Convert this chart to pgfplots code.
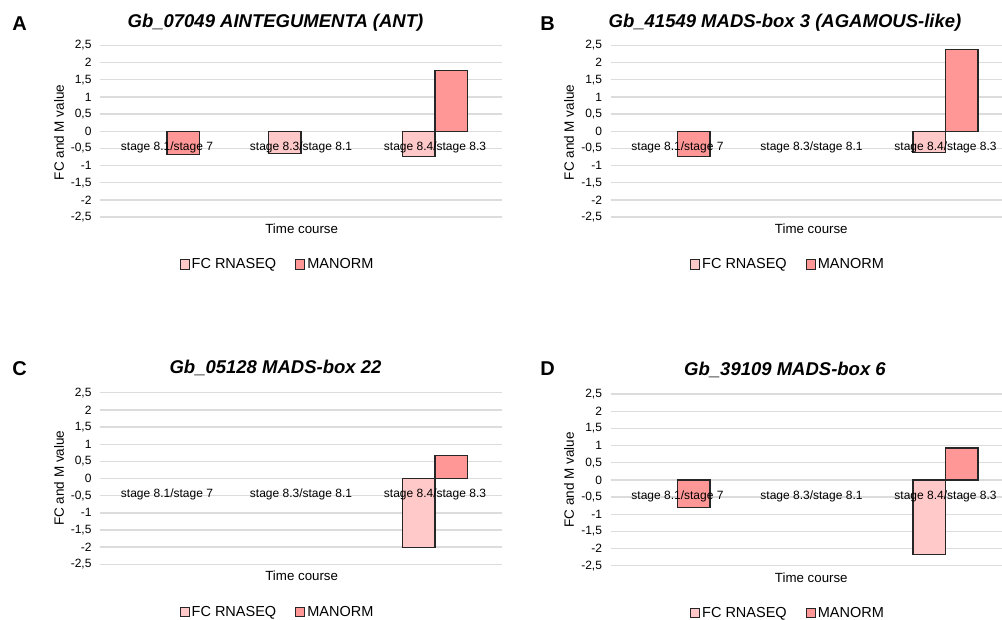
\documentclass[border=0pt]{standalone}
\usepackage{fontspec}
\setmainfont{Liberation Sans}
\usepackage{pgfplots}
\pgfplotsset{compat=1.18}
\definecolor{fcpink}{HTML}{FFC9C9}
\definecolor{manorm}{HTML}{FF9797}
\definecolor{gridc}{HTML}{DCDCDC}
\definecolor{edge}{HTML}{262626}
\pgfplotsset{
 base/.style={
   scale only axis, width=402pt, height=171.5pt,
   anchor=south west,
   xmin=0.5, xmax=3.5, ymin=-2.5, ymax=2.5,
   enlarge x limits=false, enlarge y limits=false,
   axis x line*=middle, axis y line*=left,
   x axis line style={draw=none},
   y axis line style={draw=none},
   major tick length=0pt,
 },
 panel/.style={base,
   ybar=0pt, bar width=32.5pt,
   xtick={1,2,3}, xticklabels={},
   ytick={-2.5,-2,-1.5,-1,-0.5,0,0.5,1,1.5,2,2.5},
   ymajorgrids, grid style={draw=gridc, line width=1.4pt},
   /pgf/number format/assume math mode=true,
   /pgf/number format/use comma,
   /pgf/number format/fixed,
   yticklabel style={font=\fontsize{12}{14}\selectfont, anchor=east, xshift=-5pt},
   legend style={at={(177.5pt,-47.5pt)}, anchor=center, draw=none, fill=none,
     legend columns=2, font=\fontsize{14.5}{16}\selectfont,
     /tikz/every even column/.append style={column sep=17pt}},
 },
 catlabels/.style={base,
   xtick={1,2,3},
   xticklabels={stage 8.1/stage 7, stage 8.3/stage 8.1, stage 8.4/stage 8.3},
   ytick=\empty,
   xticklabel style={font=\fontsize{12}{14}\selectfont, anchor=north, yshift=-7pt},
 },
 rightpanel/.style={width=391.5pt, xmax=3.4216},
 fcbar/.style={fill=fcpink, draw=edge, line width=1.2pt,
   /pgfplots/legend image code/.code={\draw[fill=fcpink,draw=edge,line width=0.9pt] (0pt,-4.6pt) rectangle (9.2pt,4.6pt);}},
 mabar/.style={fill=manorm, draw=edge, line width=1.2pt,
   /pgfplots/legend image code/.code={\draw[fill=manorm,draw=edge,line width=0.9pt] (0pt,-4.6pt) rectangle (9.2pt,4.6pt);}},
}
\begin{document}
\begin{tikzpicture}[x=1pt,y=1pt]
\fill[white] (0,0) rectangle (1002,620);

% Panel A
\begin{axis}[panel, at={(100pt,403pt)}]
\addplot[fcbar] coordinates {(2,-0.64) (3,-0.73)};
\addplot[mabar] coordinates {(1,-0.68) (3,1.78)};
\legend{FC RNASEQ, MANORM}
\end{axis}
\begin{axis}[catlabels, at={(100pt,403pt)}]
\end{axis}

% Panel B
\begin{axis}[panel, rightpanel, at={(610.5pt,403pt)}]
\addplot[fcbar] coordinates {(3,-0.61)};
\addplot[mabar] coordinates {(1,-0.73) (3,2.38)};
\legend{FC RNASEQ, MANORM}
\end{axis}
\begin{axis}[catlabels, rightpanel, at={(610.5pt,403pt)}]
\end{axis}

% Panel C
\begin{axis}[panel, at={(100pt,55.7pt)}]
\addplot[fcbar] coordinates {(3,-2.02)};
\addplot[mabar] coordinates {(3,0.67)};
\legend{FC RNASEQ, MANORM}
\end{axis}
\begin{axis}[catlabels, at={(100pt,55.7pt)}]
\end{axis}

% Panel D
\begin{axis}[panel, rightpanel, at={(610.5pt,54.3pt)}]
\addplot[fcbar] coordinates {(3,-2.17)};
\addplot[mabar] coordinates {(1,-0.80) (3,0.93)};
\legend{FC RNASEQ, MANORM}
\end{axis}
\begin{axis}[catlabels, rightpanel, at={(610.5pt,54.3pt)}]
\end{axis}

\tikzset{letter/.style={font=\fontsize{20}{22}\selectfont\bfseries},
  ttl/.style={font=\fontsize{18.5}{21}\selectfont\bfseries\itshape},
  ylab/.style={rotate=90, font=\fontsize{13.5}{15}\selectfont},
  xlab/.style={font=\fontsize{13.3}{15}\selectfont}}
\node[letter] at (19.5,596.3) {A};
\node[letter] at (547.5,596.3) {B};
\node[letter] at (19.5,251.5) {C};
\node[letter] at (547.5,251.5) {D};

\node[ttl] at (275.5,597.5) {Gb\_07049 AINTEGUMENTA (ANT)};
\node[ttl] at (785,597.5) {Gb\_41549 MADS-box 3 (AGAMOUS-like)};
\node[ttl] at (275.5,252.5) {Gb\_05128 MADS-box 22};
\node[ttl] at (785,250.5) {Gb\_39109 MADS-box 6};

\node[ylab] at (59,487.5) {FC and M value};
\node[ylab] at (569,487.5) {FC and M value};
\node[ylab] at (59,141.7) {FC and M value};
\node[ylab] at (569,140) {FC and M value};

\node[xlab] at (301.7,391) {Time course};
\node[xlab] at (811.3,391) {Time course};
\node[xlab] at (301.7,44) {Time course};
\node[xlab] at (811.3,42.3) {Time course};

\pgfresetboundingbox
\useasboundingbox (0,0) rectangle (1002,620);
\end{tikzpicture}
\end{document}
